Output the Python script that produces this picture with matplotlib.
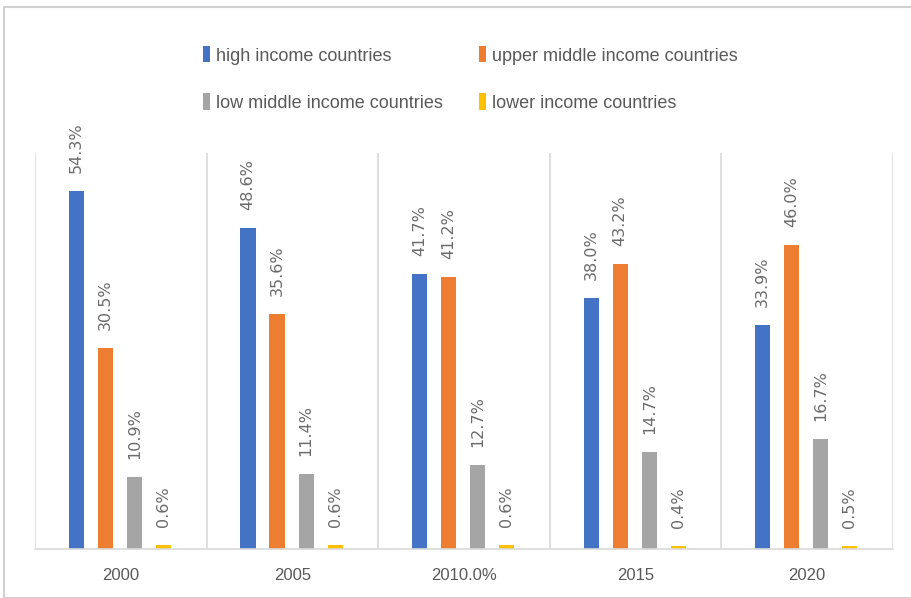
import numpy as np
import matplotlib.pyplot as plt
from matplotlib.patches import Rectangle

years = ["2000", "2005", "2010.0%", "2015", "2020"]
series_names = ["high income countries", "upper middle income countries",
                "low middle income countries", "lower income countries"]
high = [54.3, 48.6, 41.7, 38.0, 33.9]
upper_middle = [30.5, 35.6, 41.2, 43.2, 46.0]
low_middle = [10.9, 11.4, 12.7, 14.7, 16.7]
lower = [0.6, 0.6, 0.6, 0.4, 0.5]
colors = ["#4472c4", "#ed7d31", "#a5a5a5", "#ffc000"]

label_font = ["Liberation Sans", "DejaVu Sans"]

fig = plt.figure(figsize=(9.11, 5.98), dpi=100)
fig.patches.append(Rectangle((4 / 911, 0), 1, 1 - 7 / 598, transform=fig.transFigure,
                             fill=False, edgecolor="#d0d0d0", linewidth=1.5))
ax = fig.add_axes([35 / 911, 49 / 598, 858 / 911, 396 / 598])

x = np.arange(len(years))
offsets = [-0.259, -0.090, 0.080, 0.249]
width = 0.088
handles = []
for vals, off, c, name in zip([high, upper_middle, low_middle, lower], offsets, colors, series_names):
    bars = ax.bar(x + off, vals, width, color=c, label=name)
    handles.append(bars)
    for b, v in zip(bars, vals):
        ax.annotate(f"{v:.1f}%", (b.get_x() + b.get_width() / 2, v), xytext=(0, 13),
                    textcoords="offset points", rotation=90, ha="center", va="bottom",
                    fontsize=11.5, color="#6b6b6b")

ax.set_xlim(-0.5, len(years) - 0.5)
ax.set_ylim(0, 60)
ax.set_yticks([])
ax.set_xticks(x)
ax.set_xticklabels(years, family=label_font, fontsize=12, color="#595959")
ax.tick_params(axis="x", length=0, pad=14)
for s in ["top", "right", "left"]:
    ax.spines[s].set_visible(False)
ax.spines["bottom"].set_color("#d9d9d9")
ax.spines["bottom"].set_linewidth(1.2)
for b in np.arange(-0.5, len(years), 1.0):
    ax.axvline(b, color="#d9d9d9", linewidth=1.2, zorder=0)

# legend fills column-first, so reorder to read row by row
order = [0, 2, 1, 3]
ax.legend([handles[i] for i in order], [series_names[i] for i in order],
          loc="upper left", bbox_to_anchor=(187 / 911, 1 - 30 / 598),
          bbox_transform=fig.transFigure, ncol=2, frameon=False,
          prop={"family": label_font, "size": 13}, labelcolor="#595959",
          handlelength=0.4, handleheight=1.0, handletextpad=0.3,
          columnspacing=2.0, labelspacing=1.6)

fig.savefig("out.png", dpi=100)
